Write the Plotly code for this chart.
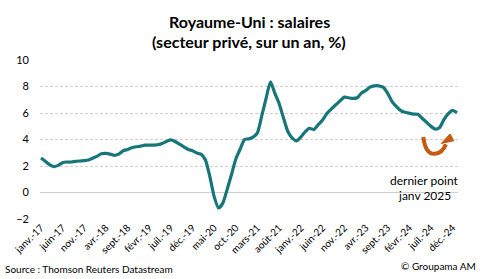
import pandas as pd
import plotly.graph_objects as go

# Monthly data, Jan 2017 .. Jan 2025
start_month = "2017-01-01"
values = [
    2.6, 2.35, 2.1, 1.95, 2.05, 2.25, 2.3, 2.3, 2.35, 2.38, 2.4, 2.45,      # 2017
    2.6, 2.75, 2.92, 2.95, 2.9, 2.8, 2.9, 3.15, 3.25, 3.38, 3.45, 3.5,      # 2018
    3.58, 3.58, 3.58, 3.6, 3.7, 3.85, 3.97, 3.85, 3.65, 3.45, 3.25, 3.15,   # 2019
    2.98, 2.88, 2.45, 1.2, -0.3, -1.17, -0.8, 0.25, 1.4, 2.55, 3.3, 4.0,    # 2020
    4.05, 4.2, 4.5, 5.8, 7.1, 8.35, 7.5, 6.7, 5.6, 4.6, 4.1, 3.9,           # 2021
    4.2, 4.6, 4.85, 4.75, 5.1, 5.45, 5.95, 6.3, 6.6, 6.9, 7.2, 7.15,        # 2022
    7.1, 7.15, 7.5, 7.7, 7.95, 8.05, 8.05, 7.95, 7.5, 6.9, 6.5, 6.2,        # 2023
    6.05, 5.98, 5.92, 5.9, 5.6, 5.3, 5.0, 4.78, 4.9, 5.5, 5.95, 6.2,        # 2024
    6.03,                                                                   # Jan 2025
]
dates = pd.date_range(start_month, periods=len(values), freq="MS")

tick_labels = ["janv.-17", "juin-17", "nov.-17", "avr.-18", "sept.-18", "févr.-19",
               "juil.-19", "déc.-19", "mai-20", "oct.-20", "mars-21", "août-21",
               "janv.-22", "juin-22", "nov.-22", "avr.-23", "sept.-23", "févr.-24",
               "juil.-24", "déc.-24"]
tick_dates = [dates[i * 5] for i in range(len(tick_labels))]

y_ticks = [-2, 0, 2, 4, 6, 8, 10]

FONT = "Lato"
LINE_COLOR = "#17767A"
ARROW_COLOR = "#C55A11"

fig = go.Figure()
fig.add_trace(go.Scatter(
    x=dates, y=values, mode="lines",
    line=dict(color=LINE_COLOR, width=3.2, shape="spline", smoothing=0.6),
    hoverinfo="x+y", showlegend=False,
))

fig.update_layout(
    width=480, height=279,
    margin=dict(l=37, r=22, t=60, b=60),
    paper_bgcolor="white", plot_bgcolor="white",
    font=dict(family=FONT, size=11, color="#000000"),
    showlegend=False,
)
fig.update_xaxes(
    range=["2016-12-25", "2025-01-08"],
    tickmode="array", tickvals=tick_dates, ticktext=tick_labels,
    tickangle=-45, tickfont=dict(size=10, family=FONT),
    showgrid=False, showline=False, ticks="", zeroline=False,
)
fig.update_yaxes(
    range=[-2, 10], tickmode="array", tickvals=y_ticks,
    tickfont=dict(size=11, family=FONT),
    showgrid=True, gridcolor="#D0D0D0", gridwidth=1, griddash="3px,2px",
    zeroline=True, zerolinecolor="#D0D0D0", zerolinewidth=1,
    showline=False, ticks="", ticklabelstandoff=10,
)

# Title
fig.add_annotation(text="<b>Royaume-Uni : salaires</b>", xref="paper", yref="paper",
                   x=0.5, y=1, xanchor="center", yanchor="middle", yshift=39,
                   showarrow=False, font=dict(size=16, family=FONT))
fig.add_annotation(text="<b>(secteur privé, sur un an, %)</b>", xref="paper", yref="paper",
                   x=0.5, y=1, xanchor="center", yanchor="middle", yshift=19,
                   showarrow=False, font=dict(size=16, family=FONT))

# "last point" note
fig.add_annotation(text="dernier point", xref="paper", yref="paper",
                   x=0.92, y=0.24, xanchor="center", yanchor="middle",
                   showarrow=False, font=dict(size=12, family=FONT, color="#000000"))
fig.add_annotation(text="janv 2025", xref="paper", yref="paper",
                   x=0.92, y=0.145, xanchor="center", yanchor="middle",
                   showarrow=False, font=dict(size=12, family=FONT, color="#000000"))

# Curved orange arrow (decoration)
fig.add_shape(type="path", xref="paper", yref="paper",
              path="M 0.917,0.516 Q 0.922,0.405 0.945,0.41 Q 0.963,0.415 0.971,0.47",
              line=dict(color=ARROW_COLOR, width=4))
fig.add_shape(type="path", xref="paper", yref="paper",
              path="M 0.960,0.475 L 0.990,0.492 L 0.981,0.535 Z",
              fillcolor=ARROW_COLOR, line=dict(color=ARROW_COLOR, width=1))

# Footer texts
fig.add_annotation(text="Source : Thomson Reuters Datastream", xref="paper", yref="paper",
                   x=-37 / 421, y=0, xanchor="left", yanchor="bottom", yshift=-58,
                   showarrow=False, font=dict(size=10, family=FONT))
fig.add_annotation(text="© Groupama AM", xref="paper", yref="paper",
                   x=1 + 20 / 421, y=0, xanchor="right", yanchor="bottom", yshift=-55,
                   showarrow=False, font=dict(size=10, family=FONT))

fig.write_html("out.html")
